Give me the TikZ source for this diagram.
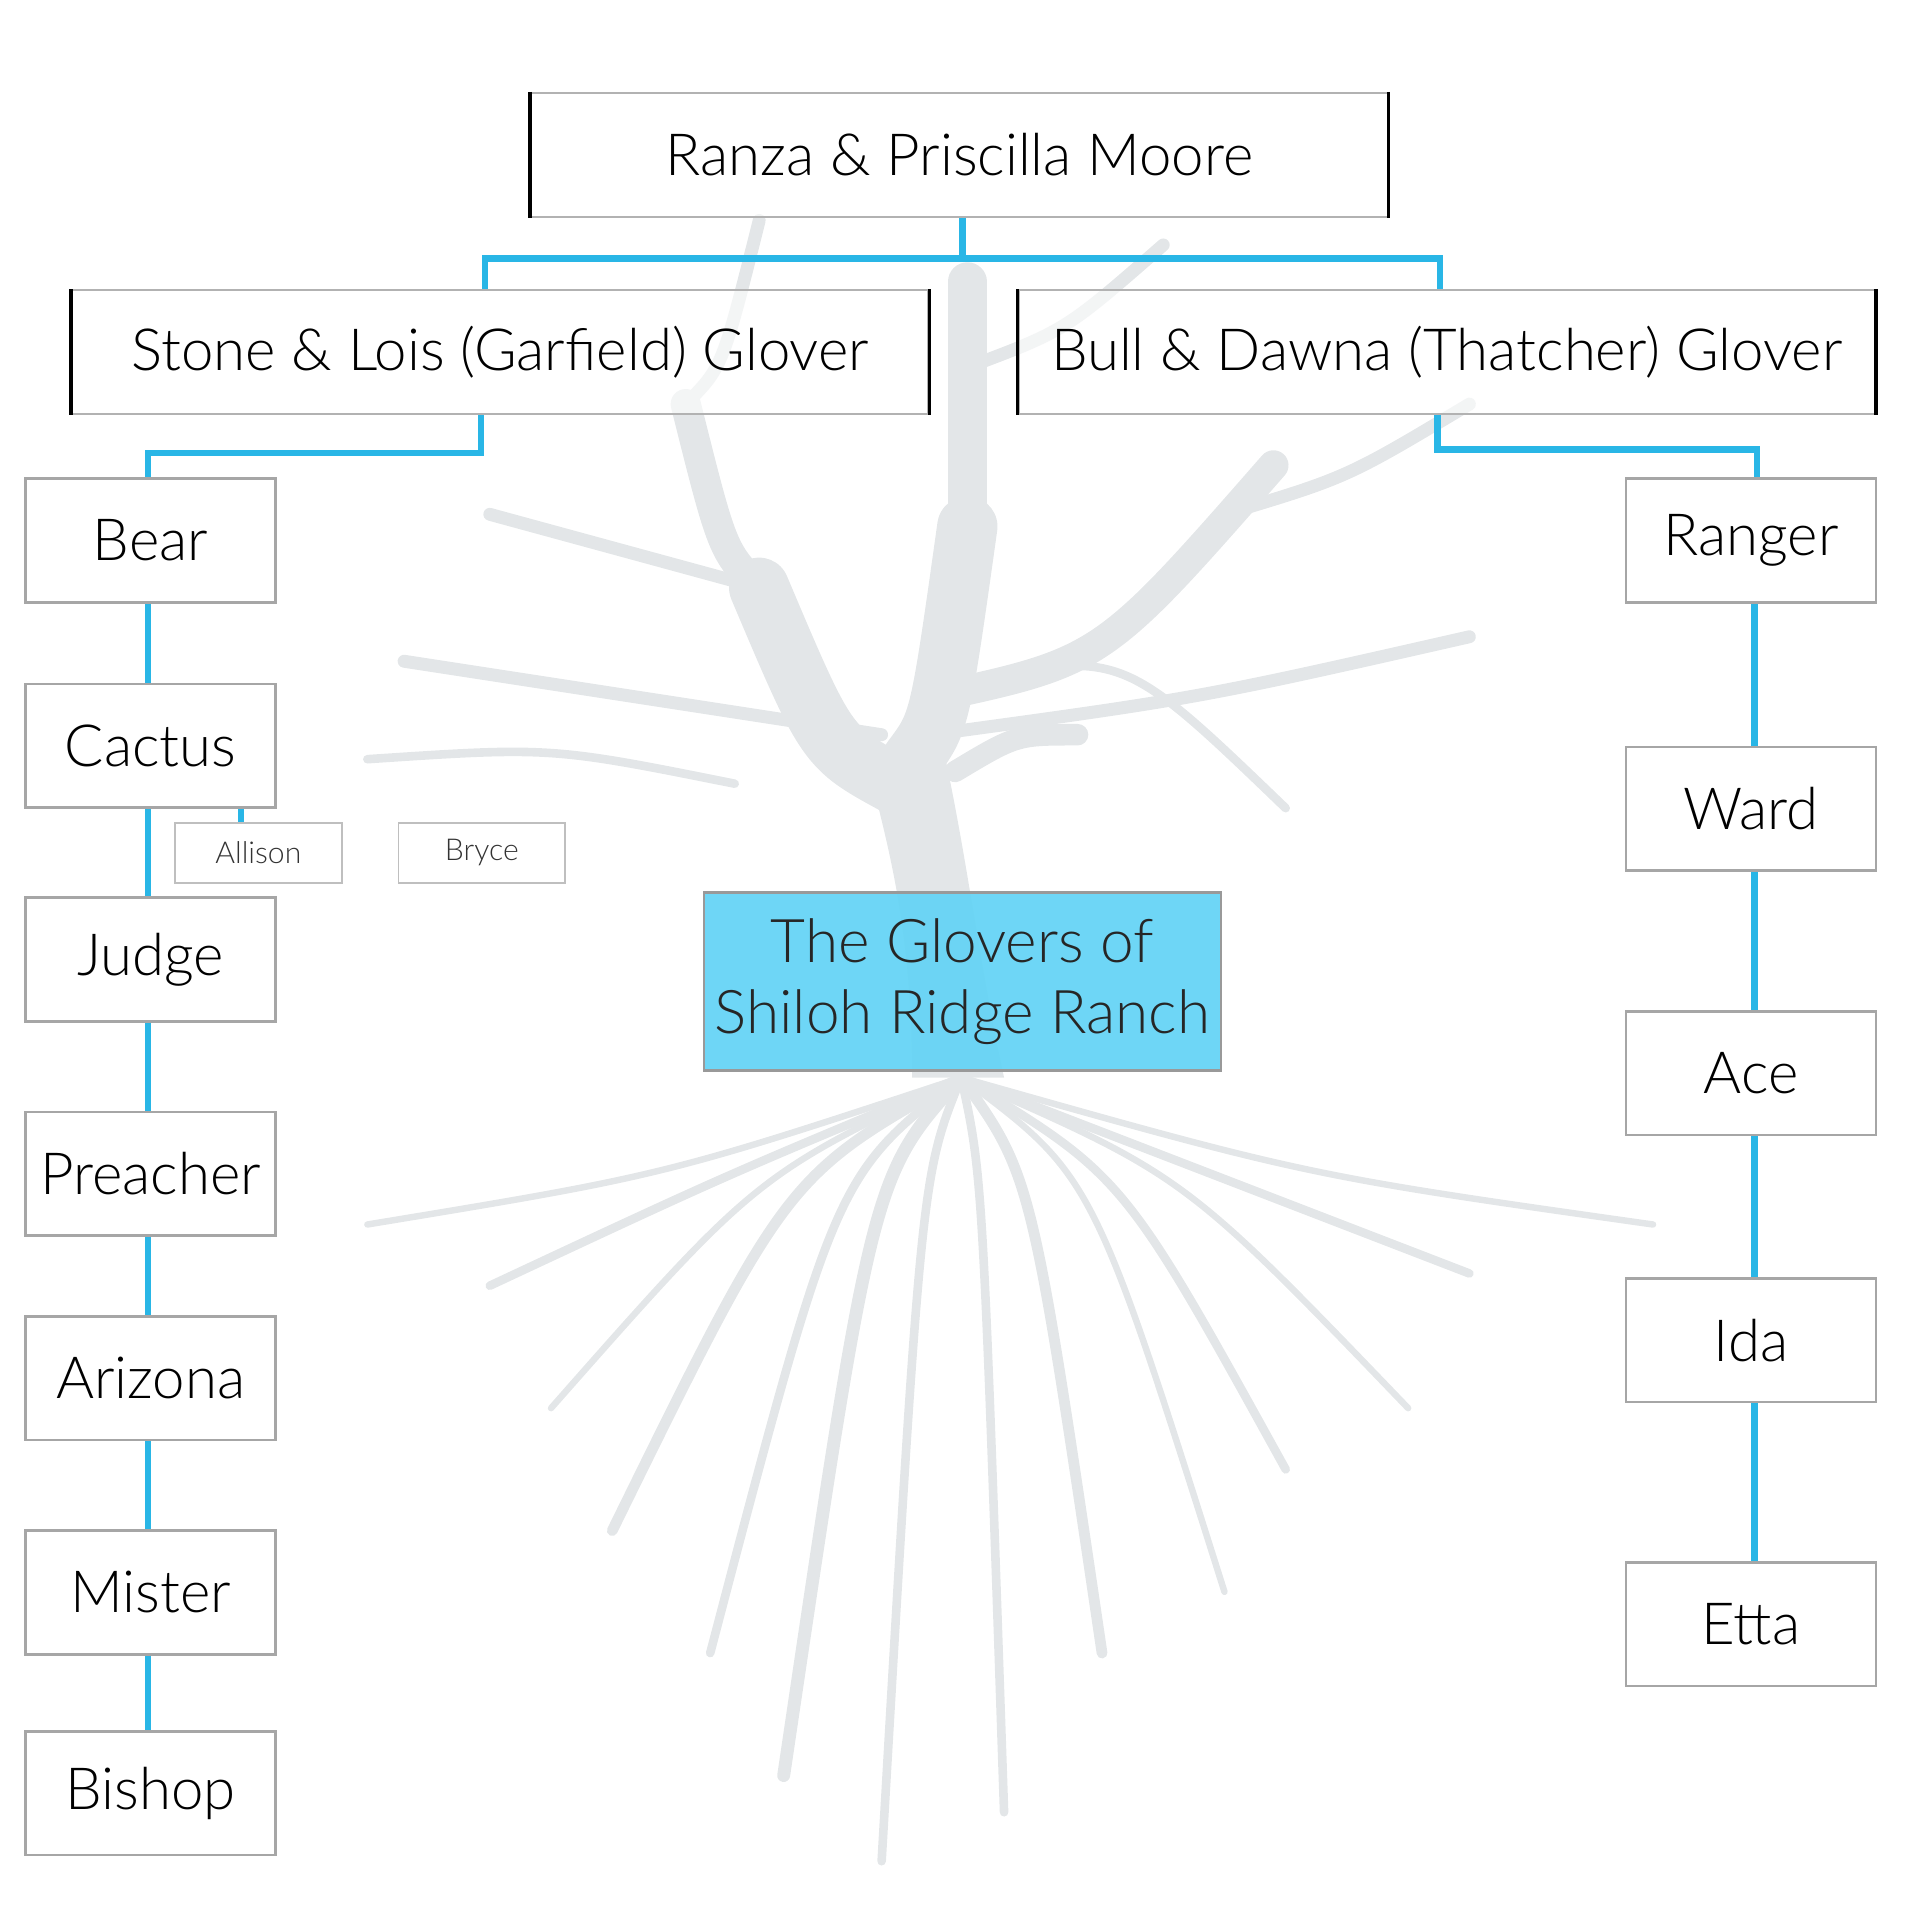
\documentclass[tikz,border=0pt]{standalone}
\usepackage{fontspec}
\setmainfont{Lato Light}
\definecolor{linkblue}{HTML}{29B6E6}
\definecolor{boxblue}{HTML}{66D4F5}
\definecolor{treegray}{HTML}{E3E6E8}
\tikzset{
  person/.style={draw=gray!70,fill=white,line width=0.6pt,minimum width=2.04cm,minimum height=1.01cm,inner sep=0pt,font=\fontsize{13.5}{16}\selectfont},
  couple/.style={draw=gray!60,fill=white,fill opacity=0.6,text opacity=1,line width=0.5pt,minimum width=6.99cm,minimum height=1.01cm,inner sep=0pt,font=\fontsize{13.5}{16}\selectfont},
  small/.style={draw=gray!50,fill=white,line width=0.4pt,minimum width=1.36cm,minimum height=0.49cm,inner sep=0pt,font=\fontsize{7}{8}\selectfont,text=black!80},
  link/.style={linkblue,line width=1.5pt},
  branch/.style={treegray,line cap=round}
}
\begin{document}
\begin{tikzpicture}[x=0.01cm,y=-0.01cm]
    \useasboundingbox (0,0) rectangle (1568,1568);
    % faint tree behind
    \fill[treegray] (745,880) .. controls (745,760) and (725,690) .. (710,630) -- (770,610) .. controls (790,700) and (800,790) .. (820,880) -- cycle;
    \foreach \a/\b/\c/\d/\w in {730/640/620/480/14, 745/620/790/430/14, 790/430/790/230/9, 620/480/560/330/7, 760/570/1040/380/7, 720/600/330/540/3, 760/600/1200/520/3, 780/630/880/600/5, 620/480/400/420/3, 1000/420/1200/330/3, 560/330/620/180/3, 790/300/950/200/3, 600/640/300/620/2, 780/560/1050/660/2}
        \draw[branch,line width=\w pt] (\a,\b) .. controls ({(\a+\c)/2},{\b-30}) .. (\c,\d);
    \foreach \e/\f/\w in {400/1050/2, 500/1250/2.5, 640/1450/3, 720/1520/2, 900/1350/2.5, 1050/1200/2, 1200/1040/2, 1350/1000/1.5, 300/1000/1.5, 820/1480/2, 580/1350/2, 1000/1300/1.5, 1150/1150/1.5, 450/1150/1.5}
        \draw[branch,line width=\w pt] (785,880) .. controls ({(785+\e)/2},{880+80}) .. (\e,\f);
    % couples
    \node[couple] (moore) at (783.5,126.5) {Ranza \& Priscilla Moore};
    \node[couple] (stone) at (408.5,287.5) {Stone \& Lois (Garfield) Glover};
    \node[couple] (bull) at (1181.5,287.5) {Bull \& Dawna (Thatcher) Glover};
    \foreach \n in {moore,stone,bull}
    {
        \draw[black,line width=0.8pt] (\n.north west) -- (\n.south west);
        \draw[black,line width=0.8pt] (\n.north east) -- (\n.south east);
    }
    % left children
    \foreach \n/\y in {Bear/441.5, Cactus/609, Judge/783.5, Preacher/958.5, Arizona/1125.5, Mister/1300.5, Bishop/1464.5}
        \node[person] (\n) at (123,\y) {\n};
    % right children
    \foreach \n/\y in {Ranger/441.5, Ward/660.5, Ace/876.5, Ida/1094.5, Etta/1326.5}
        \node[person] (\n) at (1430,\y) {\n};
    \node[small] (Allison) at (211,696.5) {Allison};
    \node[small] (Bryce) at (393.5,696.5) {Bryce};
    \node[draw=gray!80,fill=boxblue,fill opacity=0.95,text opacity=1,line width=0.6pt,minimum width=4.22cm,minimum height=1.45cm,align=center,inner sep=0pt,font=\fontsize{14}{16.5}\selectfont,text=black!85] (title) at (786,801.5) {The Glovers of\\Shiloh Ridge Ranch};
    % connectors
    \coordinate (top) at (786,211);
    \draw[link] (moore.south -| top) -- (top);
    \draw[link] (stone.north -| 396,0) |- (top) -| (bull.north -| 1176,0);
    \draw[link] (stone.south -| 393,0) -- (393,370) -- (121,370) -- (Bear.north -| 121,0);
    \draw[link] (bull.south -| 1174,0) -- (1174,367) -- (1435,367) -- (Ranger.north -| 1435,0);
    \draw[link] (Bear.south -| 121,0) -- (Cactus.north -| 121,0);
    \draw[link] (Cactus.south -| 121,0) -- (Judge.north -| 121,0);
    \draw[link] (Judge.south -| 121,0) -- (Preacher.north -| 121,0);
    \draw[link] (Preacher.south -| 121,0) -- (Arizona.north -| 121,0);
    \draw[link] (Arizona.south -| 121,0) -- (Mister.north -| 121,0);
    \draw[link] (Mister.south -| 121,0) -- (Bishop.north -| 121,0);
    \draw[link] (Cactus.south -| 197,0) -- (Allison.north -| 197,0);
    \draw[link] (Ranger.south -| 1433,0) -- (Ward.north -| 1433,0);
    \draw[link] (Ward.south -| 1433,0) -- (Ace.north -| 1433,0);
    \draw[link] (Ace.south -| 1433,0) -- (Ida.north -| 1433,0);
    \draw[link] (Ida.south -| 1433,0) -- (Etta.north -| 1433,0);
\end{tikzpicture}
\end{document}
